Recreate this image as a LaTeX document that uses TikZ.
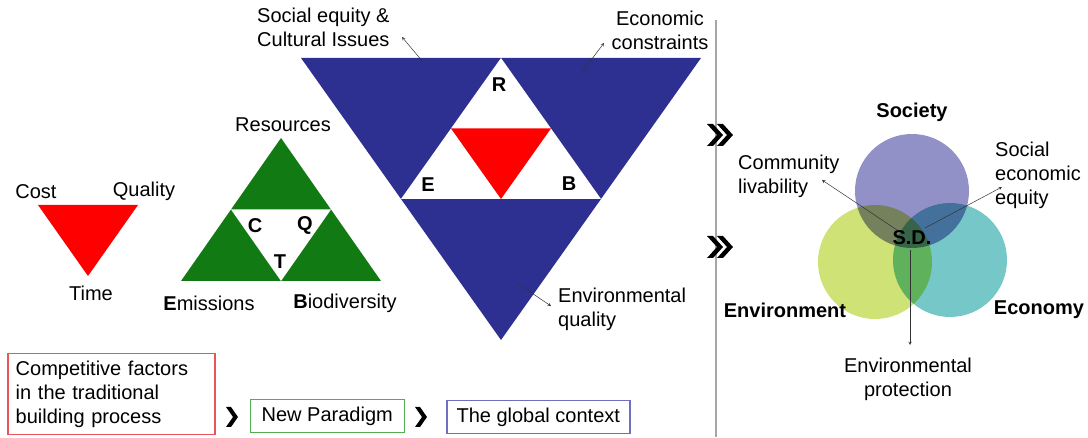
\documentclass[tikz,border=0pt]{standalone}
\usepackage{fontspec}
\setmainfont{Liberation Sans}
\usetikzlibrary{positioning,calc}
\definecolor{gtblue}{RGB}{46,48,145}
\definecolor{tgreen}{RGB}{18,122,18}
\definecolor{cqtred}{RGB}{255,0,0}
\definecolor{socfill}{RGB}{145,145,200}
\definecolor{envfill}{RGB}{206,226,118}
\definecolor{ecofill}{RGB}{118,200,200}
\definecolor{boxred}{RGB}{232,85,90}
\definecolor{boxgreen}{RGB}{85,172,85}
\definecolor{boxblue}{RGB}{110,110,195}
\tikzset{/sd/lbl/.style={inner sep=0, align=center, font=\fontsize{20}{24}\selectfont
}}
\tikzset{/sd/key/.style={inner sep=0, align=center, font=\fontsize{20}{24}\selectfont\bfseries
}}
\tikzset{/sd/box/.style={rectangle, draw, line width=1.5pt, inner xsep=8pt, inner ysep=0, font=\fontsize{20}{24}\selectfont
}}
\tikzset{/sd/ptr/.style={-stealth, line width=0.5pt, draw=black!80
}}

\begin{document}
\begin{tikzpicture}[x=1pt, y=-1pt]
	\useasboundingbox (0,0) rectangle (1088,438);
	% competitive factors
	\path[fill=cqtred] (38,205) -- (138,205) -- (88,276) -- cycle;
	\path node[/sd/lbl] (Cost) at (36,192) {Cost};
	\path node[/sd/lbl] (Quality) at (144,191) {Quality};
	\path node[/sd/lbl] (Time) at (91,293) {Time};
	% new paradigm
	\path[fill=tgreen] (281,138) -- (381,281) -- (181,281) -- cycle;
	\path[fill=white] (231,209.5) -- (331,209.5) -- (281,281) -- cycle;
	\path node[/sd/lbl] (Res) at (283,125) {Resources};
	\path node[/sd/lbl] (Emi) at (209,303) {\textbf{E}missions};
	\path node[/sd/lbl] (Bio) at (345,303) {\textbf{B}iodiversity};
	\path node[/sd/key] (C) at (255,226) {C};
	\path node[/sd/key] (Q) at (305,225) {Q};
	\path node[/sd/key] (T) at (280,262) {T};
	% global context
	\path[fill=gtblue] (301,58) -- (701,58) -- (501,340) -- cycle;
	\path[fill=white] (501,58) -- (601,199) -- (401,199) -- cycle;
	\path[fill=cqtred] (451,128.5) -- (551,128.5) -- (501,199) -- cycle;
	\path node[/sd/key] (R) at (499,85) {R};
	\path node[/sd/key] (E) at (428,185) {E};
	\path node[/sd/key] (B) at (569,184) {B};
	\path node[/sd/lbl, align=left, anchor=west] (SocEq) at (257,27.5) {Social equity \&\\Cultural Issues};
	\path node[/sd/lbl] (EcoCon) at (660,30) {Economic\\constraints};
	\path node[/sd/lbl, align=left, anchor=west] (EnvQ) at (558,309.5) {Environmental\\quality};
	\coordinate (SocEqTail) at (423,62);
	\coordinate (SocEqTip) at (402,37);
	\coordinate (EcoConTail) at (582,72);
	\coordinate (EcoConTip) at (604,43);
	\coordinate (EnvQTail) at (517,283);
	\coordinate (EnvQTip) at (551,306);
	\path[/sd/ptr] (SocEqTail) -- (SocEqTip);
	\path[/sd/ptr] (EcoConTail) -- (EcoConTip);
	\path[/sd/ptr] (EnvQTail) -- (EnvQTip);
	% separator and chevrons
	\draw[black!35, line width=1.3pt] (716,20) -- (716,437);
	\foreach \cy in {135,247} {
		\foreach \dx in {0,10} {
			\path[fill=black] (707+\dx,\cy-11) -- ++(6,0) -- ++(10,11) -- ++(-10,11) -- ++(-6,0) -- ++(10,-11) -- cycle;
		}
	}
	% sustainable development
	\begin{scope}[blend group=multiply]
		\path[fill=socfill] (912,191) circle[radius=57pt];
		\path[fill=envfill] (875,262) circle[radius=57pt];
		\path[fill=ecofill] (950,260) circle[radius=57pt];
	\end{scope}
	\path node[/sd/key] (Society) at (912,112) {Society};
	\path node[/sd/key] (Environment) at (785,310) {Environment};
	\path node[/sd/key] (Economy) at (1039,310) {Economy};
	\path node[/sd/key] (SD) at (912,238) {S.D.};
	\path node[/sd/lbl, align=left, anchor=west] (Livab) at (738,176.5) {Community\\livability};
	\path node[/sd/lbl, align=left, anchor=west] (SocEco) at (995,175.5) {Social\\economic\\equity};
	\path node[/sd/lbl] (EnvProt) at (908,379.5) {Environmental\\protection};
	\coordinate (LivabTail) at (897,230);
	\coordinate (LivabTip) at (822,180);
	\coordinate (SocEcoTail) at (925,228);
	\coordinate (SocEcoTip) at (1002,187);
	\coordinate (EnvProtTail) at (910,250);
	\coordinate (EnvProtTip) at (910,345);
	\path[/sd/ptr] (LivabTail) -- (LivabTip);
	\path[/sd/ptr] (SocEcoTail) -- (SocEcoTip);
	\path[/sd/ptr] (EnvProtTail) -- (EnvProtTip);
	% legend boxes
	\path node[/sd/box, draw=boxred, anchor=north west, minimum width=207pt, minimum height=81pt, text width=191pt, align=left] (Factors) at (7,353) {Competitive factors\\in the traditional\\building process};
	\path (Factors.south east) ++(34,-2) node[/sd/box, draw=boxgreen, anchor=south west, minimum width=154pt, minimum height=33pt] (Paradigm) {New Paradigm};
	\path (Paradigm.south east) ++(41,1) node[/sd/box, draw=boxblue, anchor=south west, minimum width=183pt, minimum height=33pt] (Context) {The global context};
	\foreach \cx in {232,421} {
		\path[fill=black] (\cx-6,407) -- ++(5,0) -- ++(7,10) -- ++(-7,10) -- ++(-5,0) -- ++(7,-10) -- cycle;
	}
\end{tikzpicture}
\end{document}
